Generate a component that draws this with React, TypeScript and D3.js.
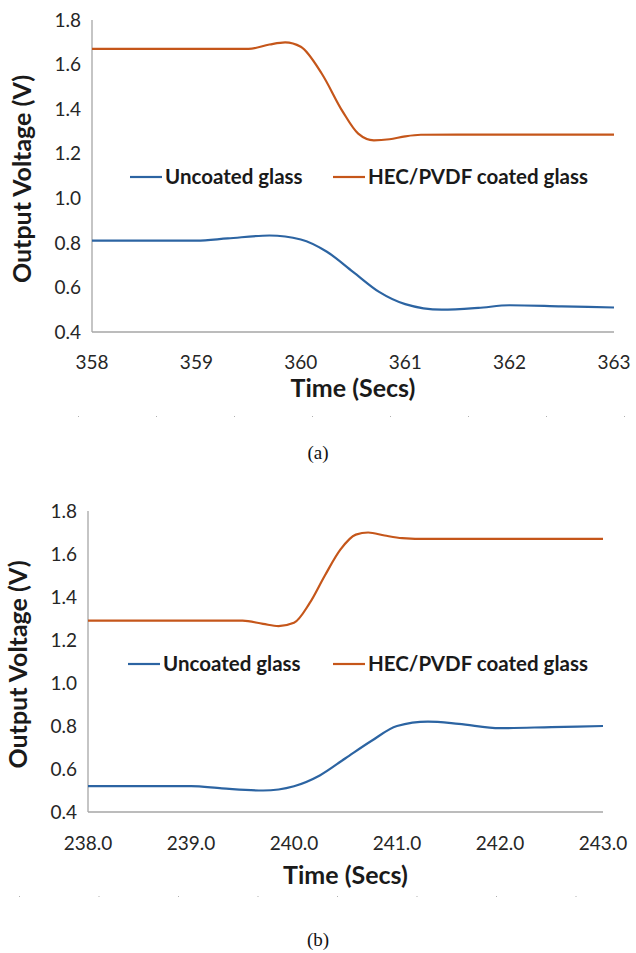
import React from 'react';
import * as d3 from 'd3';

// panel (a): falling step
const timeAUnc = [358, 358.5, 359, 359.3, 359.7, 360, 360.25, 360.5, 360.75, 361, 361.35, 361.7, 362, 362.5, 363];
const uncoatedA = [0.81, 0.81, 0.81, 0.82, 0.833, 0.815, 0.76, 0.67, 0.58, 0.525, 0.5, 0.508, 0.52, 0.515, 0.51];
const timeAHec = [358, 358.8, 359.5, 359.7, 359.85, 360, 360.2, 360.4, 360.55, 360.7, 360.85, 361.0, 361.15, 361.5, 362, 363];
const hecA = [1.67, 1.67, 1.67, 1.69, 1.7, 1.68, 1.56, 1.39, 1.29, 1.26, 1.265, 1.278, 1.285, 1.286, 1.286, 1.286];

// panel (b): rising step
const timeBUnc = [238, 238.5, 239, 239.3, 239.7, 240, 240.25, 240.5, 240.75, 241, 241.3, 241.6, 242, 242.5, 243];
const uncoatedB = [0.52, 0.52, 0.52, 0.51, 0.5, 0.52, 0.57, 0.65, 0.73, 0.8, 0.82, 0.81, 0.79, 0.795, 0.8];
const timeBHec = [238, 238.8, 239.5, 239.7, 239.85, 240, 240.15, 240.3, 240.45, 240.6, 240.72, 240.88, 241.05, 241.3, 242, 243];
const hecB = [1.29, 1.29, 1.29, 1.275, 1.265, 1.28, 1.37, 1.5, 1.62, 1.69, 1.7, 1.686, 1.674, 1.67, 1.67, 1.67];

const voltTicks = [0.4, 0.6, 0.8, 1.0, 1.2, 1.4, 1.6, 1.8];
const seriesNames = ['Uncoated glass', 'HEC/PVDF coated glass'];
const BLUE = '#2c64a2';
const ORANGE = '#c5561a';
const FONT = 'Lato, "Open Sans", sans-serif';

function Panel({box, timeDomain, tickFmt, unc, hec, caption, legendX, legendY, dotStart, dotStep}) {
  const {left, right, top, bottom, tickY, titleY, dotY, captionY} = box;
  const x = d3.scaleLinear().domain(timeDomain).range([left, right]);
  const y = d3.scaleLinear().domain([0.4, 1.8]).range([bottom, top]);
  const line = d3.line<[number, number]>()
    .x((d) => x(d[0]))
    .y((d) => y(d[1]))
    .curve(d3.curveMonotoneX);
  const xTicks = d3.range(timeDomain[0], timeDomain[1] + 0.001, 1);
  const midX = (left + right) / 2;
  // faint dotted border remnants under the axis title
  const dots = d3.range(8).map((i) => dotStart + i * dotStep);

  return (
    <g>
      <line x1={left} x2={left} y1={top} y2={bottom} stroke="#a6a6a6" strokeWidth={1.3} />
      <line x1={left} x2={right} y1={bottom} y2={bottom} stroke="#a6a6a6" strokeWidth={1.3} />
      {voltTicks.map((v) => (
        <text key={v} x={left - 11} y={y(v)} dy="0.35em" textAnchor="end" fontSize={19} fontFamily={FONT} fill="#262626">
          {v.toFixed(1)}
        </text>
      ))}
      {xTicks.map((t) => (
        <text key={t} x={x(t)} y={tickY} textAnchor="middle" fontSize={19} fontFamily={FONT} fill="#262626">
          {tickFmt(t)}
        </text>
      ))}
      <text transform={`translate(${left - 70},${(top + bottom) / 2 + 3}) rotate(-90)`} textAnchor="middle" dy="0.35em"
        fontSize={25} fontWeight="bold" fontFamily={FONT} fill="#1a1a1a">
        Output Voltage (V)
      </text>
      <text x={midX} y={titleY} textAnchor="middle" fontSize={25} fontWeight="bold" fontFamily={FONT} fill="#1a1a1a">
        Time (Secs)
      </text>
      <path d={line(unc.t.map((t, i) => [t, unc.v[i]]))} fill="none" stroke={BLUE} strokeWidth={2.2} />
      <path d={line(hec.t.map((t, i) => [t, hec.v[i]]))} fill="none" stroke={ORANGE} strokeWidth={2.2} />
      {seriesNames.map((name, i) => (
        <g key={name} transform={`translate(${legendX[i]},${legendY})`}>
          <line x1={0} x2={32} y1={0} y2={0} stroke={i === 0 ? BLUE : ORANGE} strokeWidth={2.2} />
          <text x={35} y={0} dy="0.35em" fontSize={20.5} fontWeight="bold" fontFamily={FONT} fill="#1a1a1a">{name}</text>
        </g>
      ))}
      {dots.map((dx) => (
        <rect key={dx} x={dx} y={dotY} width={1} height={1} fill="#b0b0b0" />
      ))}
      <text x={318} y={captionY} textAnchor="middle" fontSize={19} fontFamily='"Liberation Serif", serif' fill="#111">
        {caption}
      </text>
    </g>
  );
}

const boxA = {left: 92, right: 614, top: 20, bottom: 332, tickY: 369, titleY: 397, dotY: 416, captionY: 459};
const boxB = {left: 88, right: 603, top: 511, bottom: 812, tickY: 850, titleY: 884, dotY: 896, captionY: 946};

export default function App() {
  return (
    <svg width={636} height={953} style={{position: 'absolute', left: 0, top: 0, background: '#fff'}}>
      <Panel box={boxA} timeDomain={[358, 363]} tickFmt={d3.format('d')}
        unc={{t: timeAUnc, v: uncoatedA}} hec={{t: timeAHec, v: hecA}} caption="(a)"
        legendX={[130, 333]} legendY={177} dotStart={78} dotStep={78} />
      <Panel box={boxB} timeDomain={[238, 243]} tickFmt={d3.format('.1f')}
        unc={{t: timeBUnc, v: uncoatedB}} hec={{t: timeBHec, v: hecB}} caption="(b)"
        legendX={[128, 333]} legendY={664} dotStart={19} dotStep={79.5} />
    </svg>
  );
}
